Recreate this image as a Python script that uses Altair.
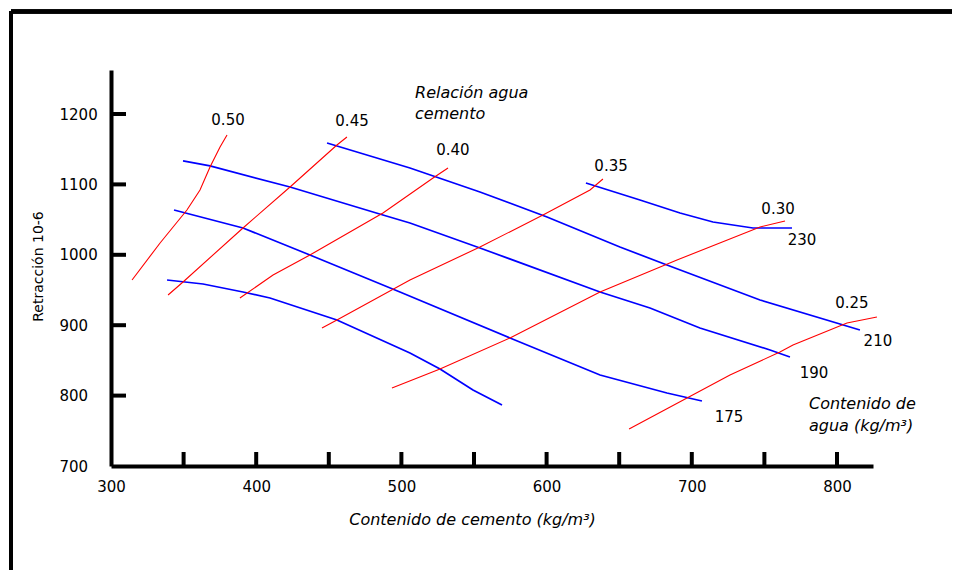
import altair as alt
import pandas as pd

# ---------------- data ----------------
# Water-content curves (blue), cement content x (kg/m3) vs shrinkage y (10^-6)
agua_230_x = [627.1, 664.3, 691.9, 714.6, 742.1, 769.0]
agua_230_y = [1102.0, 1077.9, 1059.4, 1046.6, 1038.1, 1038.1]

agua_210_x = [448.8, 505.9, 554.1, 600.3, 650.5, 682.9, 747.0, 815.8]
agua_210_y = [1158.8, 1123.3, 1089.2, 1053.7, 1011.1, 985.5, 935.8, 893.2]

agua_190_x = [349.6, 368.2, 423.3, 487.3, 505.9, 554.1, 636.8, 671.2, 705.6, 753.9, 767.6]
agua_190_y = [1133.3, 1126.2, 1096.3, 1056.5, 1045.2, 1009.7, 947.2, 924.4, 896.0, 864.8, 854.8]

agua_175_x = [343.4, 390.9, 437.0, 499.0, 574.8, 636.8, 682.9, 707.0]
agua_175_y = [1063.6, 1038.1, 999.7, 947.2, 881.8, 829.3, 803.7, 792.3]

agua_inf_x = [338.6, 363.4, 390.9, 409.5, 455.6, 505.9, 526.6, 549.3, 569.3]
agua_inf_y = [964.2, 958.5, 947.2, 938.6, 907.4, 860.5, 837.8, 808.0, 786.7]

# Water/cement ratio curves (red)
rel_050_x = [314.5, 333.8, 352.3, 361.3, 368.2, 375.1, 379.9]
rel_050_y = [964.2, 1016.8, 1063.6, 1092.1, 1124.7, 1153.1, 1170.2]

rel_045_x = [339.3, 349.6, 390.9, 423.3, 455.6, 462.5]
rel_045_y = [942.9, 961.4, 1038.1, 1096.3, 1156.0, 1167.3]

rel_040_x = [388.8, 411.6, 437.0, 487.3, 521.8, 532.1]
rel_040_y = [938.6, 971.3, 999.7, 1059.4, 1109.1, 1123.3]

rel_035_x = [445.3, 455.6, 505.9, 554.1, 597.5, 629.9, 638.8]
rel_035_y = [896.0, 907.4, 964.2, 1011.1, 1056.5, 1092.1, 1107.7]

rel_030_x = [493.5, 526.6, 574.8, 636.8, 689.8, 747.0, 764.2]
rel_030_y = [810.8, 837.8, 881.8, 947.2, 992.6, 1039.5, 1048.0]

rel_025_x = [656.8, 696.7, 726.3, 760.7, 769.7, 806.9, 827.5]
rel_025_y = [752.6, 796.6, 829.3, 861.9, 871.9, 903.1, 911.7]

# Curve labels
rel_labels = ["0.50", "0.45", "0.40", "0.35", "0.30", "0.25"]
rel_label_x = [380.6, 466.0, 535.5, 644.4, 759.4, 810.3]
rel_label_y = [1191.5, 1190.1, 1148.9, 1126.2, 1065.1, 931.5]

agua_labels = ["230", "210", "190", "175"]
agua_label_x = [775.9, 828.2, 784.2, 725.6]
agua_label_y = [1021.0, 877.6, 832.1, 769.6]

# Italic annotations (one entry per text line)
nota_textos = ["Relación agua", "cemento", "Contenido de", "agua (kg/m³)"]
nota_x = [509.4, 509.4, 780.7, 780.7]
nota_y = [1222.7, 1192.9, 781.0, 750.4]

# Axis ticks / labels
x_label_values = [300, 400, 500, 600, 700, 800]
x_tick_values = [350, 400, 450, 500, 550, 600, 650, 700, 750, 800]
y_label_values = [700, 800, 900, 1000, 1100, 1200]
y_tick_values = [800, 900, 1000, 1100, 1200]

# ---------------- build tables ----------------
def to_rows(name, xs, ys):
    return [{"serie": name, "orden": i, "x": a, "y": b} for i, (a, b) in enumerate(zip(xs, ys))]

agua_rows = []
for name, xs, ys in [("230", agua_230_x, agua_230_y), ("210", agua_210_x, agua_210_y),
                     ("190", agua_190_x, agua_190_y), ("175", agua_175_x, agua_175_y),
                     ("inferior", agua_inf_x, agua_inf_y)]:
    agua_rows += to_rows(name, xs, ys)
rel_rows = []
for name, xs, ys in [("0.50", rel_050_x, rel_050_y), ("0.45", rel_045_x, rel_045_y),
                     ("0.40", rel_040_x, rel_040_y), ("0.35", rel_035_x, rel_035_y),
                     ("0.30", rel_030_x, rel_030_y), ("0.25", rel_025_x, rel_025_y)]:
    rel_rows += to_rows(name, xs, ys)

df_agua = pd.DataFrame(agua_rows)
df_rel = pd.DataFrame(rel_rows)
df_lab = pd.DataFrame({"t": rel_labels + agua_labels,
                       "x": rel_label_x + agua_label_x,
                       "y": rel_label_y + agua_label_y})
df_nota = pd.DataFrame({"t": nota_textos, "x": nota_x, "y": nota_y})
df_xt = pd.DataFrame({"x": x_tick_values})
df_yt = pd.DataFrame({"y": y_tick_values})

W, H = 762, 396
FONT = "DejaVu Sans"

xs = alt.Scale(domain=[300, 824.8], nice=False, zero=False)
ys = alt.Scale(domain=[700, 1262.5], nice=False, zero=False)

xaxis = alt.Axis(values=x_label_values, format="d", ticks=False, grid=False,
                 domainColor="black", domainWidth=4, labelFlush=False, labelOverlap=False,
                 labelFont=FONT, labelFontSize=15, labelColor="black", labelPadding=13,
                 title="Contenido de cemento (kg/m³)", titleFont=FONT, titleFontSize=16,
                 titleFontStyle="italic", titleFontWeight="normal", titleColor="black",
                 titleX=361, titleY=53, titleAlign="center", titleBaseline="middle")
yaxis = alt.Axis(values=y_label_values, format="d", ticks=False, grid=False,
                 domainColor="black", domainWidth=4, labelOverlap=False,
                 labelFont=FONT, labelFontSize=15, labelColor="black", labelPadding=52,
                 labelAlign="left",
                 title="Retracción 10-6", titleFont=FONT, titleFontSize=14,
                 titleFontWeight="normal", titleColor="black", titleAngle=270,
                 titleX=-73, titleY=196, titleAlign="center", titleBaseline="middle")

X = lambda: alt.X("x:Q", scale=xs, axis=xaxis)
Y = lambda: alt.Y("y:Q", scale=ys, axis=yaxis)

blue = alt.Chart(df_agua).mark_line(color="#0000FF", strokeWidth=1.7).encode(
    x=X(), y=Y(), detail="serie:N", order="orden:Q")
red = alt.Chart(df_rel).mark_line(color="#FF0000", strokeWidth=1.1).encode(
    x=X(), y=Y(), detail="serie:N", order="orden:Q")

labels = alt.Chart(df_lab).mark_text(font=FONT, fontSize=15, color="black",
                                     align="center", baseline="middle").encode(
    x=X(), y=Y(), text="t:N")
notas = alt.Chart(df_nota).mark_text(font=FONT, fontSize=16, fontStyle="italic", color="black",
                                     align="left", baseline="alphabetic").encode(
    x=X(), y=Y(), text="t:N")

xticks = alt.Chart(df_xt).mark_rule(color="black", strokeWidth=4).encode(
    x=X(), y=alt.value(H), y2=alt.value(H - 14))
yticks = alt.Chart(df_yt).mark_rule(color="black", strokeWidth=4).encode(
    y=Y(), x=alt.value(0), x2=alt.value(15))

frame_top = alt.Chart(df_xt).mark_rule(color="black", strokeWidth=3.5).encode(
    x=alt.value(-100), x2=alt.value(900), y=alt.value(-58.5))
frame_left = alt.Chart(df_xt).mark_rule(color="black", strokeWidth=3.5).encode(
    x=alt.value(-100), y=alt.value(-58.5), y2=alt.value(560))

chart = alt.layer(frame_top, frame_left, blue, red, xticks, yticks, labels, notas).properties(
    width=W, height=H,
    autosize=alt.AutoSizeParams(type="none"),
    padding={"left": 103, "top": 62, "right": 79, "bottom": 104},
    background="white",
).configure_view(stroke=None)

chart.save("out.html", embed_options={"renderer": "svg", "actions": False})
